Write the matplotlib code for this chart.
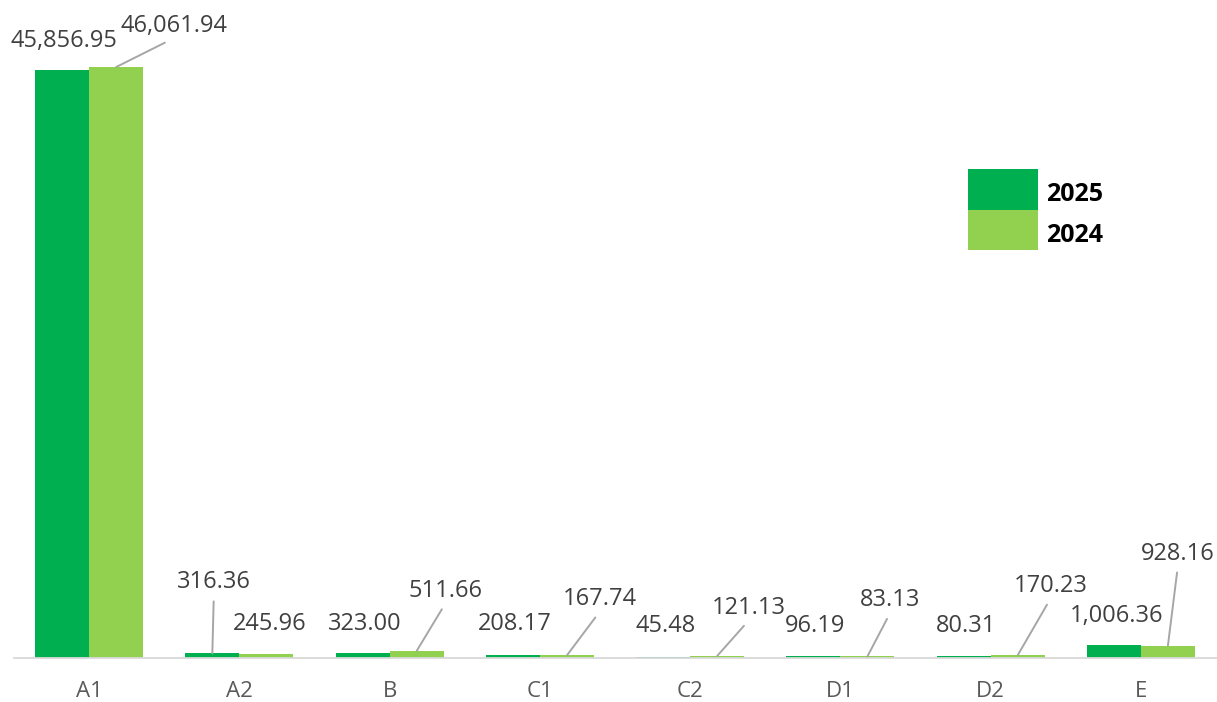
import matplotlib
matplotlib.use("Agg")
import matplotlib.pyplot as plt
from matplotlib.patches import Rectangle
import numpy as np

categories = ["A1", "A2", "B", "C1", "C2", "D1", "D2", "E"]
values_2025 = [45856.95, 316.36, 323.00, 208.17, 45.48, 96.19, 80.31, 1006.36]
values_2024 = [46061.94, 245.96, 511.66, 167.74, 121.13, 83.13, 170.23, 928.16]
series_names = ["2025", "2024"]

# label offsets (pixels) from bar top-centre, and whether a leader line is drawn
offsets_2025 = [(2, 29), (1.5, 71), (2, 29), (2, 31), (3, 31), (2, 30), (2, 30), (3, 29)]
leader_2025 = [False, True, False, False, False, False, False, False]
offsets_2024 = [(58, 41), (3, 30), (29, 60), (33, 56), (32, 48), (23, 56), (33, 69), (10, 92)]
leader_2024 = [True, False, True, True, True, True, True, True]

C2025 = "#00b050"
C2024 = "#92d050"
TXT = "#404040"
LEADER = "#a6a6a6"
FONT = "Open Sans"

W, H = 1217, 702
fig = plt.figure(figsize=(W / 100, H / 100), dpi=100)
base_px = 657.5
ax = fig.add_axes([14 / W, 1 - base_px / H, 1202 / W, base_px / H])

x = np.arange(len(categories))
bw = 0.36
ax.bar(x - bw / 2, values_2025, bw, color=C2025, label=series_names[0], zorder=2)
ax.bar(x + bw / 2, values_2024, bw, color=C2024, label=series_names[1], zorder=2)

ax.set_xlim(-0.5, len(categories) - 0.5)
ax.set_ylim(0, 51290)

for s in ["top", "left", "right"]:
    ax.spines[s].set_visible(False)
ax.spines["bottom"].set_color("#d9d9d9")
ax.spines["bottom"].set_linewidth(1.3)
ax.set_yticks([])
ax.set_xticks(x)
ax.set_xticklabels(categories, fontsize=16, color="#595959", family=FONT)
ax.tick_params(axis="x", length=0, pad=17)


def label(xc, v, off, leader):
    txt = f"{v:,.2f}"
    kw = dict(xy=(xc, v), xytext=off, textcoords="offset pixels",
              ha="center", va="center", fontsize=17, color=TXT, family=FONT,
              annotation_clip=False, zorder=3)
    if leader:
        kw["arrowprops"] = dict(arrowstyle="-", color=LEADER, lw=1.4,
                                relpos=(0.5, 0.0), shrinkA=3, shrinkB=0)
    ax.annotate(txt, **kw)


for i in range(len(categories)):
    label(x[i] - bw / 2, values_2025[i], offsets_2025[i], leader_2025[i])
    label(x[i] + bw / 2, values_2024[i], offsets_2024[i], leader_2024[i])

# legend drawn manually (figure pixel layout)
leg_colors = [C2025, C2024]
leg_x0, leg_y0, leg_w, leg_h = 968, 169, 70, 40.5
for k, (name, col) in enumerate(zip(series_names, leg_colors)):
    top = leg_y0 + k * leg_h
    fig.patches.append(Rectangle((leg_x0 / W, 1 - (top + leg_h) / H), leg_w / W, leg_h / H,
                                 transform=fig.transFigure, facecolor=col,
                                 edgecolor="none", figure=fig))
    fig.text((leg_x0 + leg_w + 8) / W, 1 - (top + 32) / H, name, ha="left",
             va="baseline", fontsize=18, fontweight="bold", family=FONT, color="black")

fig.savefig("out.png", dpi=100)
